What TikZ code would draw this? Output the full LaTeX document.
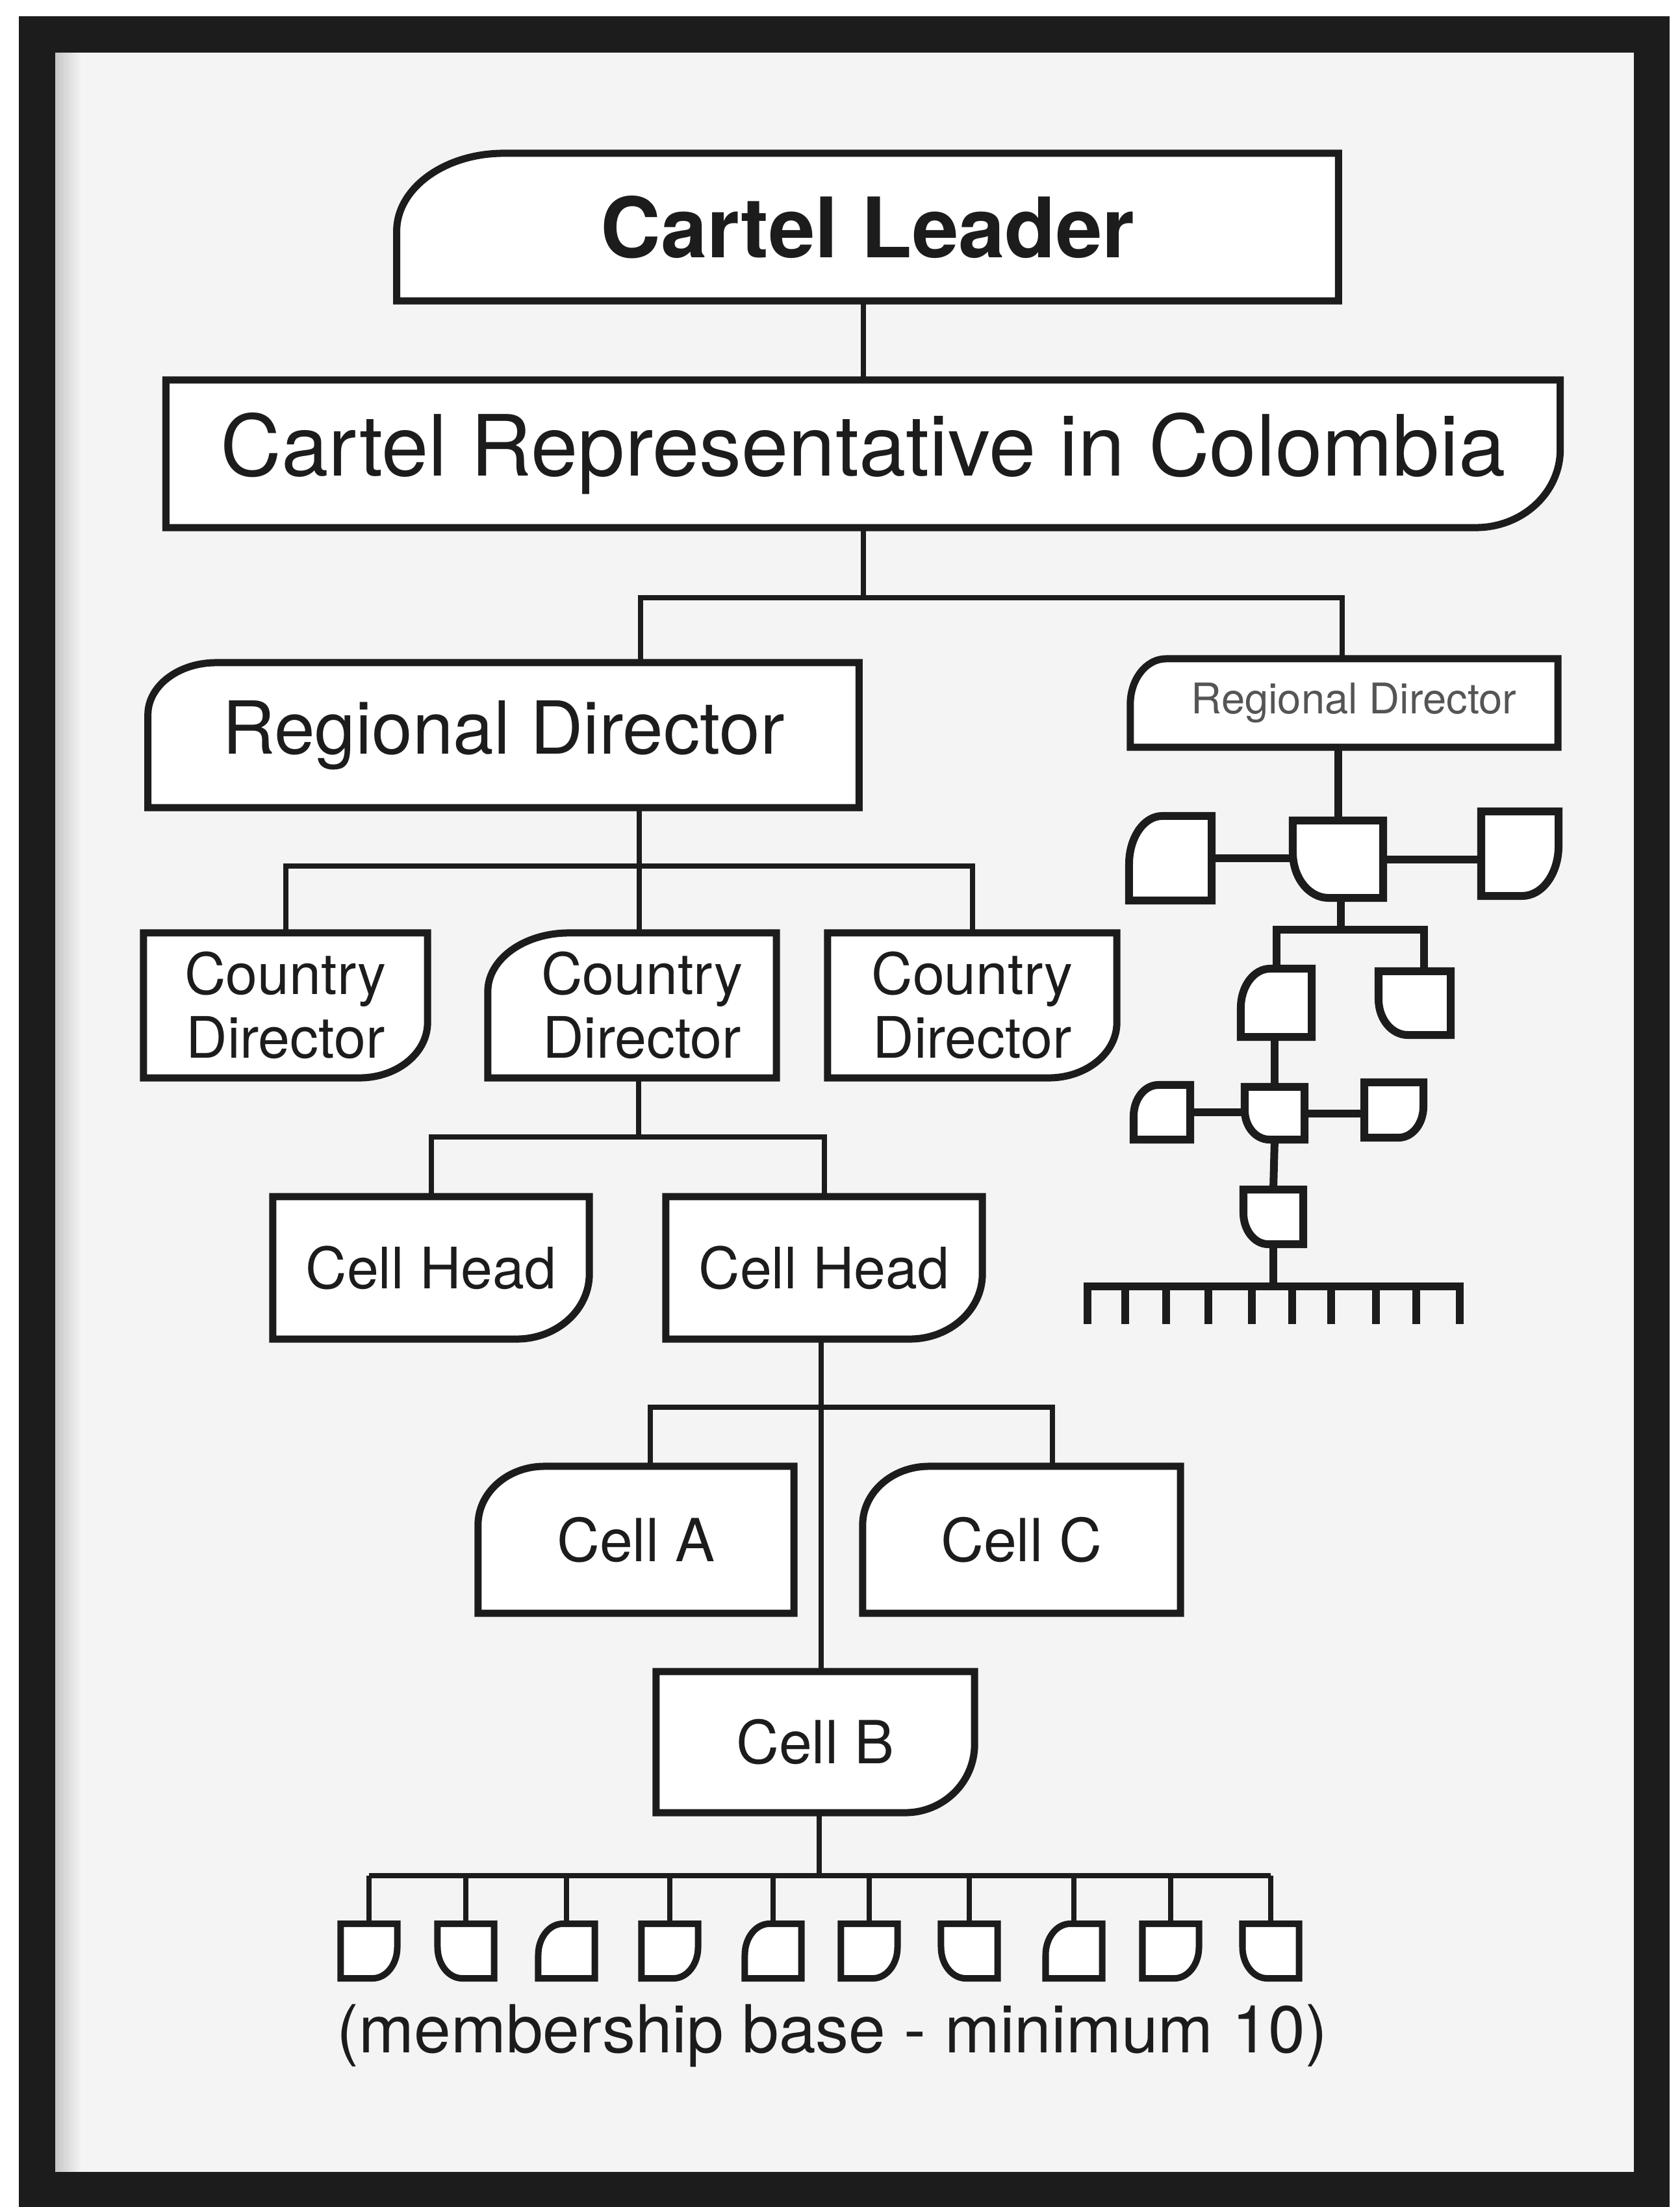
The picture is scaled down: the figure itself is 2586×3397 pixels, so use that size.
\documentclass[tikz,border=0pt]{standalone}
\usepackage{fontspec}
\setmainfont{TeX Gyre Heros}
\usetikzlibrary{calc}
\definecolor{bg}{HTML}{F4F4F4}
\definecolor{ink}{HTML}{1C1C1C}
\pgfdeclarelayer{back}
\pgfdeclarelayer{shapes}
\pgfsetlayers{back,shapes,main}
% outline with one rounded corner: #1 style, #2 node, #3 x radius, #4 y radius (px units, y downwards)
\newcommand\shTL[4]{\begin{pgfonlayer}{shapes}\draw[#1] (#2.south west) -- ($(#2.north west)+(0,#4)$) .. controls ($(#2.north west)+(0,{0.448*#4})$) and ($(#2.north west)+({0.448*#3},0)$) .. ($(#2.north west)+(#3,0)$) -- (#2.north east) -- (#2.south east) -- cycle;\end{pgfonlayer}}
\newcommand\shBR[4]{\begin{pgfonlayer}{shapes}\draw[#1] (#2.north west) -- (#2.north east) -- ($(#2.south east)+(0,-#4)$) .. controls ($(#2.south east)+(0,{-0.448*#4})$) and ($(#2.south east)+({-0.448*#3},0)$) .. ($(#2.south east)+(-#3,0)$) -- (#2.south west) -- cycle;\end{pgfonlayer}}
\newcommand\shBL[4]{\begin{pgfonlayer}{shapes}\draw[#1] (#2.north west) -- (#2.north east) -- (#2.south east) -- ($(#2.south west)+(#3,0)$) .. controls ($(#2.south west)+({0.448*#3},0)$) and ($(#2.south west)+(0,{-0.448*#4})$) .. ($(#2.south west)+(0,-#4)$) -- cycle;\end{pgfonlayer}}
\begin{document}
\begin{tikzpicture}[x=0.01cm,y=-0.01cm,
  bx/.style={inner sep=0pt, outer sep=0pt, text=ink, align=center},
  outl/.style={draw=ink, fill=white, line width=0.11cm, line join=miter},
  moutl/.style={draw=ink, fill=white, line width=0.12cm, line join=miter},
  soutl/.style={draw=ink, fill=white, line width=0.10cm, line join=miter},
  conn/.style={draw=ink, line width=0.08cm},
  mconn/.style={draw=ink, line width=0.12cm},
  fbig/.style={font=\fontsize{37}{42}\selectfont},
  fmid/.style={font=\fontsize{25}{28}\selectfont},
]
\useasboundingbox (0,0) rectangle (2586,3397);
\begin{pgfonlayer}{back}
\fill[white] (0,0) rectangle (2586,3397);
\fill[bg] (57,53) rectangle (2542,3370);
\shade[left color=black!22, right color=bg] (85,80) rectangle (125,3342);
\draw[ink, line width=0.55cm] (57,53) rectangle (2542,3370);
\end{pgfonlayer}

% ---- main chart ----
\node[bx, fbig, font=\fontsize{36.5}{40}\selectfont\bfseries, minimum width=14.49cm, minimum height=2.27cm] (leader) at (1335.5,349.5) {Cartel Leader};
\shTL{outl}{leader}{165}{120}
\node[bx, fbig, minimum width=21.45cm, minimum height=2.27cm] (rep) at (1328.5,698.5) {Cartel Representative in Colombia};
\shBR{outl}{rep}{130}{120}
\node[bx, font=\fontsize{32}{36}\selectfont, minimum width=10.94cm, minimum height=2.23cm] (rd) at (775,1131.5) {Regional Director};
\shTL{outl}{rd}{105}{80}
\node[bx, font=\fontsize{18.5}{21}\selectfont, text=ink!75, minimum width=6.58cm, minimum height=1.36cm] (rd2) at (2069,1082) {\hspace*{0.3cm}Regional Director};
\shTL{outl}{rd2}{55}{70}

\node[bx, fmid, minimum width=4.37cm, minimum height=2.23cm] (cd1) at (439.5,1547.5) {Country\\Director};
\shBR{outl}{cd1}{105}{85}
\node[bx, fmid, minimum width=4.44cm, minimum height=2.23cm] (cd2) at (973,1547.5) {\hspace*{0.3cm}Country\\\hspace*{0.3cm}Director};
\shTL{outl}{cd2}{125}{90}
\node[bx, fmid, minimum width=4.45cm, minimum height=2.23cm] (cd3) at (1496.5,1547.5) {Country\\Director};
\shBR{outl}{cd3}{105}{85}

\node[bx, fmid, minimum width=4.87cm, minimum height=2.19cm] (ch1) at (663.5,1951.5) {Cell Head};
\shBR{outl}{ch1}{112}{100}
\node[bx, fmid, minimum width=4.87cm, minimum height=2.19cm] (ch2) at (1268.5,1951.5) {Cell Head};
\shBR{outl}{ch2}{112}{100}

\node[bx, font=\fontsize{26}{30}\selectfont, minimum width=4.86cm, minimum height=2.26cm] (cella) at (979,2370) {Cell A};
\shTL{outl}{cella}{102}{90}
\node[bx, font=\fontsize{26}{30}\selectfont, minimum width=4.89cm, minimum height=2.26cm] (cellc) at (1572.5,2370) {Cell C};
\shTL{outl}{cellc}{102}{90}
\node[bx, font=\fontsize{26}{30}\selectfont, minimum width=4.90cm, minimum height=2.17cm] (cellb) at (1255,2681.5) {Cell B};
\shBR{outl}{cellb}{107}{105}

% connectors
\draw[conn] (leader.south -| rep.north) -- (rep.north);
\coordinate (b1l) at (986,920);
\coordinate (b1r) at (2066,920);
\draw[conn] (rep.south) -- (rep.south |- b1l);
\draw[conn] (b1l |- rd.north) -- (b1l) -- (b1r) -- (b1r |- rd2.north);
\coordinate (b2) at (984,1333);
\draw[conn] (b2 |- rd.south) -- (b2 |- cd2.north);
\draw[conn] (cd1.north) -- (cd1.north |- b2) -- (cd3.north |- b2) -- (cd3.north);
\coordinate (b3) at (983,1750);
\draw[conn] (b3 |- cd2.south) -- (b3);
\draw[conn] (ch1.north) -- (ch1.north |- b3) -- (ch2.north |- b3) -- (ch2.north);
\coordinate (b4) at (1264,2166);
\coordinate (b4l) at (1001,2166);
\coordinate (b4r) at (1620,2166);
\draw[conn] (b4 |- ch2.south) -- (b4 |- cellb.north);
\draw[conn] (b4l |- cella.north) -- (b4l) -- (b4r) -- (b4r |- cellc.north);
\coordinate (b5) at (1261,2887);
\draw[conn] (b5 |- cellb.south) -- (b5);

% membership base
\foreach \i/\xx/\sh in {1/568/BR,2/717/BL,3/872/TL,4/1031/BR,5/1190/TL,6/1338/BR,7/1492/BL,8/1653/TL,9/1802/BR,10/1956/BL}{
  \node[bx, minimum width=0.87cm, minimum height=0.84cm] (m\i) at (\xx,3003) {};
  \csname sh\sh\endcsname{soutl}{m\i}{38}{48}
  \draw[conn] (m\i.north |- b5) -- (m\i.north);
}
\draw[conn] (m1.north |- b5) -- (m10.north |- b5);
\node[bx, font=\fontsize{29}{33}\selectfont] (base) at (1281,3133) {(membership base - minimum 10)};

% ---- right miniature chart ----
\node[bx, minimum width=1.27cm, minimum height=1.30cm] (r1l) at (1801.5,1321) {};
\shTL{moutl}{r1l}{51}{74}
\node[bx, minimum width=1.39cm, minimum height=1.19cm] (r1c) at (2059.5,1322.5) {};
\shBL{moutl}{r1c}{55}{70}
\node[bx, minimum width=1.19cm, minimum height=1.30cm] (r1r) at (2339.5,1314) {};
\shBR{moutl}{r1r}{56}{77}
\draw[mconn] (r1c.north |- rd2.south) -- (r1c.north);
\draw[mconn] (r1l.east) -- (r1l.east -| r1c.west);
\draw[mconn] (r1c.east) -- (r1c.east -| r1r.west);

\node[bx, minimum width=1.09cm, minimum height=1.05cm] (r2l) at (1964.5,1543.5) {};
\shTL{moutl}{r2l}{45}{60}
\node[bx, minimum width=1.11cm, minimum height=0.98cm] (r2r) at (2177.5,1544) {};
\shBL{moutl}{r2r}{45}{55}
\coordinate (b6) at (2064,1431);
\coordinate (b6r) at (2192,1431);
\draw[mconn] (b6 |- r1c.south) -- (b6);
\draw[mconn] (r2l.north) -- (r2l.north |- b6) -- (b6r) -- (b6r |- r2r.north);

\node[bx, minimum width=0.87cm, minimum height=0.84cm] (r3l) at (1788.5,1712) {};
\shTL{moutl}{r3l}{38}{48}
\node[bx, minimum width=0.92cm, minimum height=0.81cm] (r3c) at (1962,1713.5) {};
\shBL{moutl}{r3c}{38}{45}
\node[bx, minimum width=0.91cm, minimum height=0.85cm] (r3r) at (2145.5,1708.5) {};
\shBR{moutl}{r3r}{38}{48}
\draw[mconn] (r3c.north |- r2l.south) -- (r3c.north);
\draw[mconn] (r3l.east) -- (r3l.east -| r3c.west);
\draw[mconn] (r3c.east) -- (r3c.east -| r3r.west);

\node[bx, minimum width=0.92cm, minimum height=0.84cm] (r4) at (1960,1873) {};
\shBL{moutl}{r4}{38}{48}
\draw[mconn] (r3c.south) -- (r4.north);
\coordinate (b7) at (1960,1980);
\draw[mconn] (r4.south) -- (b7);
\draw[mconn, line cap=butt] (1668,1980) -- (2253,1980);
\foreach \t in {1674,1732,1795,1860,1927,1989,2049,2118,2180,2247}{
  \draw[mconn] (\t,1980) -- (\t,2038);
}
\end{tikzpicture}
\end{document}
